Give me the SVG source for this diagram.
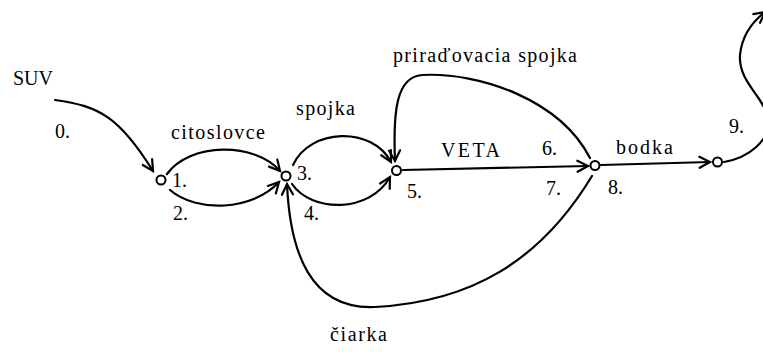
<svg xmlns="http://www.w3.org/2000/svg" width="763" height="352" viewBox="0 0 763 352">
<defs>
<style>
.e{fill:none;stroke:#000;stroke-width:2.2;stroke-linecap:round;marker-end:url(#ah)}
.n{fill:#fff;stroke:#000;stroke-width:2}
#labels text{font-family:'Liberation Serif','Times New Roman',serif;font-size:20px;fill:#000}
</style>
<marker id="ah" markerUnits="userSpaceOnUse" markerWidth="16" markerHeight="16" refX="12" refY="7" orient="auto">
<path d="M1.5,1.5 L12,7 L1.5,12.5" fill="none" stroke="#000" stroke-width="2.2" stroke-linecap="round"/>
</marker>
</defs>
<rect width="763" height="352" fill="#fff"/>
<g id="connectors">
<path class="e" d="M55,100 C100,106 120,118 153,171"/>
<path class="e" d="M167,174 C190,142 255,142 280,171"/>
<path class="e" d="M170,190 C197,213 252,211 279,182"/>
<path class="e" d="M293,165 C310,128 372,126 391,162"/>
<path class="e" d="M292,184 C312,213 370,213 390,177"/>
<path class="e" d="M403,170 L588,166"/>
<path class="e" d="M590,158 C560,100 480,72 422,75 C396,77 393,112 395,161"/>
<path class="e" d="M592,176 C540,262 470,302 375,307 C310,310 290,252 287,184"/>
<path class="e" d="M601,165 L710,162"/>
<path class="e" d="M724,162 C748,158 772,140 768,118 C765,98 738,82 740,55 C742,35 752,22 765,12"/>
</g>
<g id="node1"><circle class="n" cx="161" cy="180" r="4.5"/></g>
<g id="node3"><circle class="n" cx="286" cy="176" r="4.5"/></g>
<g id="node5"><circle class="n" cx="396.5" cy="170.5" r="4.5"/></g>
<g id="node8"><circle class="n" cx="595" cy="165.5" r="4.5"/></g>
<g id="node9"><circle class="n" cx="717.5" cy="162" r="4.5"/></g>
<g id="labels">
<text x="13" y="85">SUV</text>
<text x="55" y="138">0.</text>
<text x="172" y="187">1.</text>
<text x="173" y="220">2.</text>
<text x="171" y="139" textLength="94">citoslovce</text>
<text x="296" y="115" textLength="59">spojka</text>
<text x="297" y="180">3.</text>
<text x="304" y="220">4.</text>
<text x="407" y="198">5.</text>
<text x="441" y="157" textLength="59">VETA</text>
<text x="542" y="155">6.</text>
<text x="546" y="195">7.</text>
<text x="608" y="194">8.</text>
<text x="393" y="62" textLength="184">priraďovacia spojka</text>
<text x="616" y="154" textLength="57">bodka</text>
<text x="729" y="133">9.</text>
<text x="330" y="341" textLength="57">čiarka</text>
</g>
</svg>
